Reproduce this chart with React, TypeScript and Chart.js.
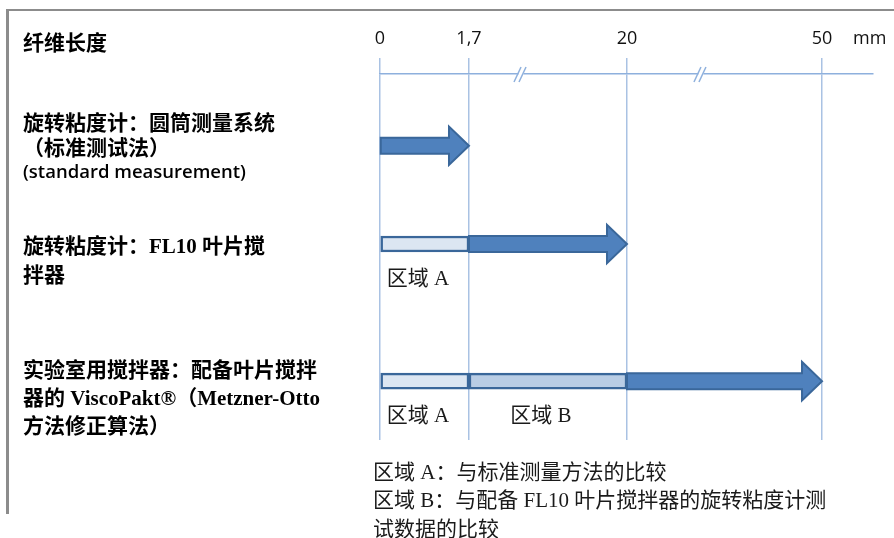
import { useEffect, useRef } from 'react';
import { Chart, registerables, LinearScale, CategoryScale } from 'chart.js';

// ---------- data ----------
const AXIS_TITLE = '纤维长度';
const UNIT = 'mm';
const TICK_VALUES = [0, 1.7, 20, 50];
const AXIS_MAX = 60;
const CATEGORIES = ['圆筒测量系统', 'FL10 叶片搅拌器', 'ViscoPakt®'];
const ROW_LABELS: string[][] = [
  ['旋转粘度计：圆筒测量系统', '（标准测试法）', '(standard measurement)'],
  ['旋转粘度计：FL10 叶片搅', '拌器'],
  ['实验室用搅拌器：配备叶片搅拌', '器的 ViscoPakt®（Metzner-Otto', '方法修正算法）'],
];
const ZONE_A_LABEL = '区域 A';
const ZONE_B_LABEL = '区域 B';
const RANGE_LABEL = '测量范围';
const ZONE_A: ([number, number] | null)[] = [null, [0, 1.7], [0, 1.7]];
const ZONE_B: ([number, number] | null)[] = [null, null, [1.7, 20]];
const RANGE: [number, number][] = [[0, 1.7], [1.7, 20], [20, 50]];
const NOTES = [
  '区域 A：与标准测量方法的比较',
  '区域 B：与配备 FL10 叶片搅拌器的旋转粘度计测',
  '试数据的比较',
];

// ---------- layout (broken axis & row placement) ----------
const TICK_FRACTIONS = [0, 0.1805, 0.501, 0.8966];
const ROW_FRACTIONS = [0.1962, 0.4646, 0.8392];
const BREAK_FRACTIONS = [0.283, 0.648];

function valueToFraction(v: number): number {
  const vals = [...TICK_VALUES, AXIS_MAX];
  const fr = [...TICK_FRACTIONS, 1];
  if (v <= vals[0]) return fr[0] + ((v - vals[0]) / (vals[1] - vals[0])) * (fr[1] - fr[0]);
  for (let i = 0; i < vals.length - 1; i++) {
    if (v <= vals[i + 1]) return fr[i] + ((v - vals[i]) / (vals[i + 1] - vals[i])) * (fr[i + 1] - fr[i]);
  }
  return 1;
}
function fractionToValue(f: number): number {
  const vals = [...TICK_VALUES, AXIS_MAX];
  const fr = [...TICK_FRACTIONS, 1];
  for (let i = 0; i < fr.length - 1; i++) {
    if (f <= fr[i + 1]) return vals[i] + ((f - fr[i]) / (fr[i + 1] - fr[i])) * (vals[i + 1] - vals[i]);
  }
  return AXIS_MAX;
}

class BrokenLinearScale extends (LinearScale as any) {
  static id = 'brokenLinear';
  static defaults = { ...(LinearScale as any).defaults };
  buildTicks() {
    return TICK_VALUES.map((value) => ({ value }));
  }
  getPixelForValue(value: any) {
    if (value === null || value === undefined || isNaN(+value)) return NaN;
    return (this as any).getPixelForDecimal(valueToFraction(+value));
  }
  getValueForPixel(pixel: number) {
    return fractionToValue((this as any).getDecimalForPixel(pixel));
  }
}

class RowScale extends (CategoryScale as any) {
  static id = 'rows';
  static defaults = { ...(CategoryScale as any).defaults };
  getPixelForValue(value: any) {
    const self = this as any;
    if (typeof value !== 'number') value = self.parse(value);
    if (value === null || value === undefined) return NaN;
    return self.top + ROW_FRACTIONS[value] * (self.bottom - self.top);
  }
}

Chart.register(...registerables, BrokenLinearScale as any, RowScale as any);

const SERIF_CJK = '"Liberation Serif", "Noto Sans CJK SC", serif';
const SANS = '"Open Sans", "Noto Sans CJK SC", sans-serif';
const ARROW_FILL = '#4F81BD';
const ARROW_STROKE = '#3A679A';
const GRID = '#A9C2E3';

const decorPlugin = {
  id: 'decor',
  beforeDraw(chart: any) {
    const ctx = chart.ctx;
    ctx.save();
    ctx.fillStyle = '#FFFFFF';
    ctx.fillRect(0, 0, chart.width, chart.height);
    ctx.fillStyle = '#8C8C8C';
    ctx.fillRect(6, 9, 3, 505);
    ctx.fillRect(6, 9, chart.width - 6, 2);
    ctx.restore();
  },
  afterDatasetsDraw(chart: any) {
    const ctx = chart.ctx;
    const area = chart.chartArea;
    const xs = chart.scales.x;
    const ys = chart.scales.y;
    ctx.save();

    // arrows (measurement range)
    const meta = chart.getDatasetMeta(2);
    meta.data.forEach((el: any) => {
      const p = el.getProps(['x', 'y', 'base', 'height'], true);
      if (isNaN(p.x)) return;
      const x0 = Math.min(p.x, p.base);
      const x1 = Math.max(p.x, p.base);
      const half = p.height / 2;
      const headHalf = half * 2.4;
      const headLen = 20;
      const y = p.y;
      ctx.beginPath();
      ctx.moveTo(x0, y - half);
      ctx.lineTo(x1 - headLen, y - half);
      ctx.lineTo(x1 - headLen, y - headHalf);
      ctx.lineTo(x1, y);
      ctx.lineTo(x1 - headLen, y + headHalf);
      ctx.lineTo(x1 - headLen, y + half);
      ctx.lineTo(x0, y + half);
      ctx.closePath();
      ctx.fillStyle = ARROW_FILL;
      ctx.fill();
      ctx.lineWidth = 2;
      ctx.strokeStyle = ARROW_STROKE;
      ctx.lineJoin = 'miter';
      ctx.stroke();
    });

    // zone labels under the bars
    ctx.fillStyle = '#1A1A1A';
    ctx.font = `21px ${SERIF_CJK}`;
    ctx.textAlign = 'center';
    ctx.textBaseline = 'middle';
    [0, 1].forEach((di) => {
      const ds = chart.data.datasets[di];
      chart.getDatasetMeta(di).data.forEach((el: any, i: number) => {
        if (ds.data[i] == null) return;
        const p = el.getProps(['x', 'y', 'base'], true);
        if (isNaN(p.x)) return;
        ctx.fillText(ds.label, (p.x + p.base) / 2 - 7, p.y + 35);
      });
    });

    // axis breaks
    const axisY = area.top;
    BREAK_FRACTIONS.forEach((f) => {
      const bx = xs.getPixelForDecimal(f);
      ctx.fillStyle = '#FFFFFF';
      ctx.fillRect(bx - 1, axisY - 3, 5, 6);
      ctx.strokeStyle = '#8EB0DD';
      ctx.lineWidth = 1.5;
      [-2.5, 2.5].forEach((o) => {
        ctx.beginPath();
        ctx.moveTo(bx + o - 3, axisY + 8);
        ctx.lineTo(bx + o + 4, axisY - 7);
        ctx.stroke();
      });
    });

    // unit
    ctx.fillStyle = '#111111';
    ctx.font = `18px ${SANS}`;
    ctx.textAlign = 'left';
    ctx.textBaseline = 'middle';
    ctx.fillText(UNIT, area.right - 20, 39);

    // axis title
    ctx.font = `bold 21px "Noto Sans CJK SC", sans-serif`;
    ctx.fillStyle = '#000000';
    ctx.fillText(AXIS_TITLE, 23, 42);

    // row labels
    const firstOffsets = [-24, 4, -10];
    const lineHs = [25.5, 29, 28];
    ROW_LABELS.forEach((lines, r) => {
      const cy = ys.getPixelForValue(r);
      lines.forEach((line, li) => {
        const y = cy + firstOffsets[r] + li * lineHs[r];
        if (r === 0 && li === 2) {
          ctx.font = `600 18.5px ${SANS}`;
        } else if (r === 0) {
          ctx.font = `bold 21px "Noto Sans CJK SC", sans-serif`;
        } else {
          ctx.font = `bold 21px ${SERIF_CJK}`;
        }
        ctx.fillText(line, 23, y);
      });
    });

    // notes
    ctx.font = `21px ${SERIF_CJK}`;
    ctx.fillStyle = '#1A1A1A';
    NOTES.forEach((n, i) => {
      ctx.fillText(n, area.left - 7, area.bottom + 33 + i * 28.5);
    });

    ctx.restore();
  },
};

export default function App() {
  const ref = useRef<HTMLCanvasElement>(null);
  useEffect(() => {
    document.body.style.margin = '0';
    const canvas = ref.current;
    if (!canvas) return;
    const barCommon = {
      grouped: false,
      barThickness: 16,
      borderSkipped: false,
      borderWidth: 2.5,
      borderColor: ARROW_STROKE,
    };
    const chart = new Chart(canvas, {
      type: 'bar',
      data: {
        labels: CATEGORIES,
        datasets: [
          { ...barCommon, label: ZONE_A_LABEL, data: ZONE_A as any, backgroundColor: '#DCE6F2' },
          { ...barCommon, label: ZONE_B_LABEL, data: ZONE_B as any, backgroundColor: '#B9CDE5' },
          { ...barCommon, label: RANGE_LABEL, data: RANGE as any, backgroundColor: 'rgba(0,0,0,0)', borderWidth: 0 },
        ],
      },
      options: {
        indexAxis: 'y',
        animation: false,
        responsive: false,
        maintainAspectRatio: false,
        layout: { padding: { left: 380, right: 21, top: 0, bottom: 98 } },
        plugins: { legend: { display: false }, tooltip: { enabled: false } },
        scales: {
          x: {
            type: 'brokenLinear' as any,
            position: 'top',
            min: 0,
            max: AXIS_MAX,
            afterFit: (s: any) => {
              s.height = 74;
            },
            grid: { color: GRID, lineWidth: 1.5, tickLength: 16, drawOnChartArea: true, offset: false },
            border: { display: true, color: '#8EB0DD', width: 1.5 },
            ticks: {
              padding: 8,
              color: '#111111',
              font: { family: '"Open Sans", sans-serif', size: 18 },
              maxRotation: 0,
              autoSkip: false,
              callback: (v: any) => String(v).replace('.', ','),
            },
          } as any,
          y: { type: 'rows' as any, display: false } as any,
        },
      },
      plugins: [decorPlugin],
    });
    return () => chart.destroy();
  }, []);
  return (
    <div style={{ width: 894, height: 538 }}>
      <canvas ref={ref} width={894} height={538} style={{ display: 'block' }} />
    </div>
  );
}
